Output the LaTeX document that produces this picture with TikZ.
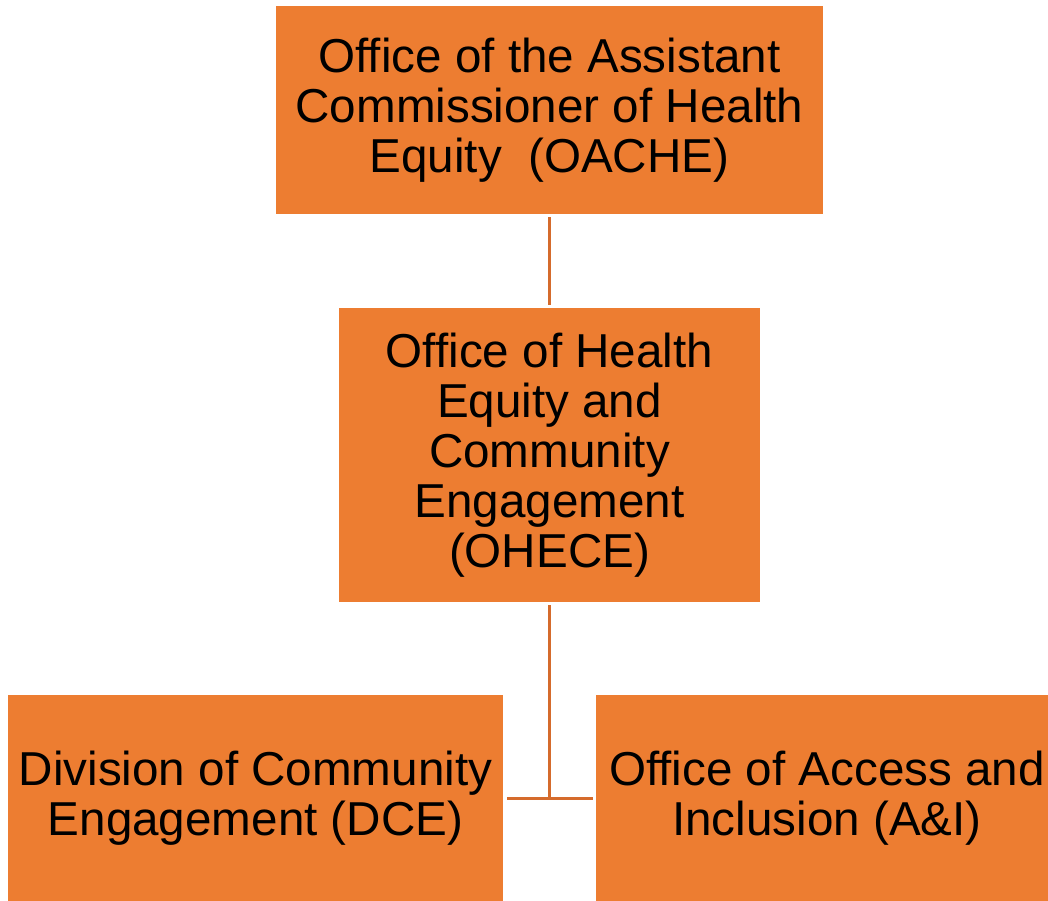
\documentclass[tikz,border=0pt]{standalone}
\usepackage{fontspec}
\setmainfont{Liberation Sans}
\definecolor{boxOrange}{HTML}{ED7D31}
\definecolor{lineOrange}{HTML}{D56B2C}
\begin{document}
\begin{tikzpicture}
[x=0.5pt,y=-0.5pt,
  boxDecorate/.style={shape=rectangle,fill=boxOrange,inner sep=0pt,align=center,
    font=\fontsize{23.8}{25}\selectfont},%
  lineDecorate/.style={draw=lineOrange,line width=1.5pt}]
\useasboundingbox (0,0) rectangle (1048,900);
%% boxes
\foreach \nodename/\x/\y/\w/\h/\boxtext in {
  oache/549.5/110/547/208/{Office of the Assistant\\Commissioner of Health\\Equity \ (OACHE)},
  ohece/549.5/455/421/294/{Office of Health\\Equity and\\Community\\Engagement\\(OHECE)},
  dce/255.5/798/495/206/{Division of Community\\Engagement (DCE)},
  ai/827/798/462/206/{Office of Access and\\Inclusion (A\&I)}}
{
  \node (\nodename) at (\x,\y) [boxDecorate,minimum width=\w*0.5pt,minimum height=\h*0.5pt] {\boxtext};
}
\coordinate (junction) at (549.5,798);
%% lines
\draw[lineDecorate,shorten <=1.5pt,shorten >=1.5pt] (oache) -- (ohece);
\draw[lineDecorate,shorten <=1.5pt] (ohece) -- (junction);
\draw[lineDecorate,shorten <=2pt,shorten >=1.5pt] (dce) -- (ai);
\end{tikzpicture}
\end{document}
